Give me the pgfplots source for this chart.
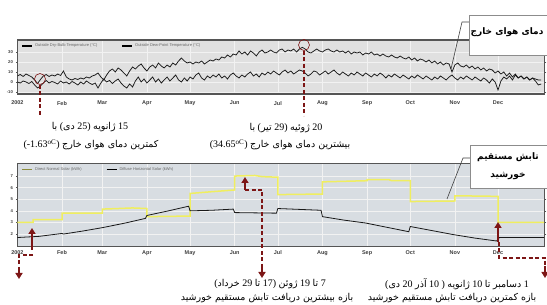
\documentclass[border=0pt]{standalone}
\usepackage{pgfplots}
\pgfplotsset{compat=1.18}
\usepackage{fontspec}
\setmainfont{Liberation Serif}
\newfontfamily\ax{Liberation Sans}
\newfontfamily\fa[Script=Arabic]{DejaVu Sans}
\TeXXeTstate=1
\usetikzlibrary{arrows.meta}
\definecolor{dred}{RGB}{125,22,22}
\definecolor{bgt}{RGB}{224,224,224}
\definecolor{bgb}{RGB}{216,221,226}
\definecolor{frm}{RGB}{85,85,85}
\definecolor{yel}{RGB}{240,238,95}
\definecolor{oli}{RGB}{140,140,60}
\definecolor{grd}{RGB}{242,242,242}
\pgfplotsset{
  panel/.style={
    scale only axis, width=527.4pt, xmin=0, xmax=366.5,
    axis line style={frm, line width=1.2pt},
    xtick={0,31,59,90,120,151,181,212,243,273,304,334},
    xticklabels={2002,Feb,Mar,Apr,May,Jun,Jul,Aug,Sep,Oct,Nov,Dec},
    xtick style={draw=none},
    xticklabel style={font=\ax\bfseries\fontsize{5.5}{6}\selectfont, text=black!75},
    yticklabel style={font=\ax\bfseries\fontsize{4.2}{5}\selectfont, text=black!75, xshift=0.5pt},
    ytick style={frm, line width=0.4pt},
    tick align=outside, major tick length=1.5pt,
    /pgf/number format/assume math mode=true,
    grid=major, grid style={grd, line width=0.5pt},
    legend style={at={(0.006,0.985)}, anchor=north west, draw=none, fill=none,
      font=\ax\fontsize{4}{4.5}\selectfont, text=black!60, legend columns=2,
      /tikz/every even column/.append style={column sep=22pt}, inner sep=0.5pt},
    legend image code/.code={\draw[#1, line width=1.8pt] (0pt,0pt) -- (10pt,0pt);},
    clip=true,
  }
}
\newcommand\p[1]{{\fa\fontsize{9.5}{12}\selectfont #1}}
\begin{document}
\begin{tikzpicture}
\useasboundingbox (0pt,0pt) rectangle (547pt,305pt);
\fill[white] (0pt,0pt) rectangle (547pt,305pt);
% ---------------- top panel: outside temperatures ----------------
\begin{axis}[panel, at={(17.4pt,210.5pt)}, anchor=south west, height=54.5pt,
  ymin=-12.5, ymax=42, ytick={-10,0,10,20,30},
  axis background/.style={fill=bgt},
  xticklabel style={yshift=-1.5pt}]
\addlegendimage{black, line width=1.8pt}
\addlegendentry{Outside Dry-Bulb Temperature (°C)}
\addlegendimage{black, line width=1.8pt}
\addlegendentry{Outside Dew-Point Temperature (°C)}
\addplot[black!90, line width=0.75pt, forget plot] coordinates {
(0,6)(2,7.5)(4,5.5)(6,8)(8,6.5)(10,5)(12,2)(14,-1.6)(16,2.5)(18,6)(20,7.5)(22,5.5)(24,7)(26,6)(28,8)(30,6.5)
(32,11)(34,5)(36,3)(38,2)(40,3.5)(42,2.5)(44,4)(46,3)(48,5)(50,4)(52,6)(54,7)(56,9)(58,5)(60,2)(62,7)
(64,11)(66,13)(68,10)(70,14)(72,12)(74,9)(76,6)(78,11)(80,15)(82,13)(84,16)(86,18)(88,14)(90,11)(92,15)
(94,17)(96,14)(98,19)(100,16)(102,14)(104,17)(106,15)(108,19)(110,17)(112,21)(114,24)(116,21)(118,19)
(120,20)(122,18)(124,20)(126,19)(128,21)(130,18)(132,20)(134,22)(136,21)(138,23)(140,22)(142,25)(144,24)
(146,27)(148,25)(150,28)(152,27)(154,31)(156,28)(158,30)(160,27)(162,31)(164,29)(166,26)(168,30)(170,32)
(172,29)(174,30)(176,32)(178,30)(180,29)(182,32)(184,33)(186,30)(188,32)(190,31)(192,33)(194,30)(196,33)
(198,34.65)(200,33)(202,30)(204,29)(206,31)(208,33)(210,31)(212,30)(214,32)(216,33)(218,31)(220,30)(222,32)
(224,30)(226,31)(228,29)(230,31)(232,28)(234,30)(236,29)(238,30)(240,27)(242,29)(244,28)(246,30)(248,27)
(250,28)(252,26)(254,28)(256,26)(258,25)(260,27)(262,25)(264,24)(266,26)(268,24)(270,23)(272,25)(274,22)
(276,24)(278,21)(280,23)(282,22)(284,20)(286,22)(288,19)(290,21)(292,18)(294,20)(296,17)(298,19)(300,18)
(302,10)(304,17)(306,19)(308,16)(310,15)(312,17)(314,14)(316,16)(318,13)(320,15)(322,12)(324,14)(326,11)
(328,13)(330,12)(332,9)(334,11)(336,8)(338,10)(340,6)(342,9)(344,5)(346,8)(348,4)(350,6)(352,3)(354,5)
(356,2)(358,4)(360,1)(362,-3)(364,-2)};
\addplot[black!90, line width=0.75pt, forget plot] coordinates {
(0,0)(2,-1)(4,1)(6,0)(8,-1.5)(10,0.5)(12,-3)(14,-6)(16,-4)(18,-1)(20,1.5)(22,-1)(24,0.5)(26,-0.5)(28,-2)
(30,1)(32,-1)(34,0)(36,-2)(38,0.5)(40,-1)(42,-3)(44,0)(46,-2)(48,1)(50,-1)(52,-2.5)(54,-1)(56,-6)(58,-1)
(60,3)(62,0)(64,1.5)(66,-1.5)(68,1)(70,3)(72,-1)(74,-4)(76,-6)(78,-2)(80,-5)(82,1)(84,5)(86,0)(88,3)(90,-1)
(92,2)(94,5)(96,0)(98,3)(100,-1)(102,2)(104,5)(106,1)(108,4)(110,7)(112,2)(114,0)(116,4)(118,1)(120,5)
(122,3)(124,7)(126,9)(128,4)(130,2)(132,6)(134,4)(136,7)(138,5)(140,8)(142,4)(144,6)(146,3)(148,7)(150,9)
(152,6)(154,4)(156,7)(158,5)(160,8)(162,10)(164,6)(166,8)(168,5)(170,9)(172,7)(174,10)(176,8)(178,11)
(180,9)(182,7)(184,10)(186,12)(188,9)(190,11)(192,8)(194,10)(196,12)(198,11)(200,9)(202,6)(204,8)(206,11)
(208,10)(210,7)(212,9)(214,11)(216,8)(218,10)(220,12)(222,9)(224,7)(226,10)(228,8)(230,6)(232,9)(234,7)
(236,10)(238,8)(240,6)(242,9)(244,7)(246,5)(248,8)(250,6)(252,9)(254,7)(256,4)(258,7)(260,5)(262,8)(264,6)
(266,4)(268,7)(270,5)(272,3)(274,6)(276,4)(278,7)(280,5)(282,3)(284,6)(286,4)(288,2)(290,5)(292,3)(294,6)
(296,4)(298,2)(300,5)(302,7)(304,4)(306,2)(308,5)(310,3)(312,6)(314,4)(316,2)(318,5)(320,3)(322,1)(324,4)
(326,2)(328,-1)(330,3)(332,0)(334,-8)(336,1)(338,5)(340,3)(342,6)(344,2)(346,7)(348,4)(350,6)(352,3)
(354,5)(356,2)(358,4)(360,3)(362,2)(364,2)};
\draw[frm, line width=3pt] (rel axis cs:0,0) -- (rel axis cs:1,0);
\end{axis}
% ---------------- bottom panel: solar ----------------
\begin{axis}[panel, at={(17.4pt,58.2pt)}, anchor=south west, height=83.5pt,
  ymin=0.9, ymax=8.1, ytick={2,3,4,5,6,7},
  axis background/.style={fill=bgb},
  xticklabel style={yshift=1pt}]
\addlegendimage{oli, line width=1.8pt}
\addlegendentry{Direct Normal Solar (kWh)}
\addlegendimage{black, line width=1.8pt}
\addlegendentry{Diffuse Horizontal Solar (kWh)}
\addplot[yel, line width=1.5pt, forget plot] coordinates {
(0,3.0)(11,3.0)(11,3.25)(31,3.25)(31,3.8)(59,3.8)(59,4.15)(70,4.2)(80,4.25)(90,4.2)(90,3.5)(120,3.55)
(120,5.5)(135,5.65)(151,5.8)(151,7.0)(165,7.05)(170,6.95)(181,6.9)(181,5.4)(212,5.45)(212,6.5)(228,6.55)
(243,6.6)(243,6.7)(258,6.7)(260,6.6)(273,6.6)(273,4.8)(304,4.85)(304,5.3)(334,5.25)(334,3.0)(366,3.0)};
\addplot[black!90, line width=0.8pt, forget plot] coordinates {
(0,1.7)(15,1.8)(31,2.05)(32,2.0)(45,2.25)(59,2.55)(75,2.95)(89,3.35)(90,3.6)(105,4.0)(119,4.4)(120,4.0)
(135,4.05)(150,4.15)(151,3.85)(180,3.8)(181,4.2)(211,4.05)(212,3.5)(227,3.2)(242,2.95)(258,2.55)(272,2.2)
(273,2.65)(288,2.3)(303,1.95)(318,1.65)(333,1.4)(335,1.7)(366,1.7)};
\end{axis}
% ---------------- annotations ----------------
\begin{scope}[x=1pt,y=1pt]
\tikzset{dsh/.style={dred, line width=2.2pt, dash pattern=on 4pt off 2.5pt},
         arr/.style={dred, line width=2.2pt, -{Triangle[length=6pt,width=7pt]}}}
% top panel markers
\draw[dred, line width=0.6pt] (40,305-79) circle (5.5);
\draw[dsh] (40,305-85) -- (40,305-116);
\draw[dred, line width=0.6pt] (304,305-45) circle (5.5);
\draw[dsh] (304,305-51) -- (304,305-116);
% bottom panel: January
\draw[arr] (32,305-250) -- (32,305-228);
\draw[dsh] (33,305-255) -- (19,305-255) -- (19,305-270);
\draw[arr] (19,305-268) -- (19,305-279);
% bottom panel: June
\draw[arr] (245,305-190) -- (245,305-177);
\draw[dsh] (245,305-190) -- (262,305-190) -- (262,305-268);
\draw[arr] (262,305-266) -- (262,305-278);
% bottom panel: December
\draw[arr] (498,305-242) -- (498,305-222);
\draw[dsh] (499,305-242) -- (499,305-258) -- (545,305-258) -- (545,305-268);
\draw[arr] (545,305-266) -- (545,305-278);
% callout boxes
\draw[black!75, line width=0.6pt] (469,305-22) -- (462,305-22) -- (451,305-69);
\draw[black!45, fill=white, line width=0.6pt] (469,305-15) rectangle (549,305-55);
\node[font=\fa\bfseries\fontsize{9}{10}\selectfont] at (507,305-32) {\beginR دمای هوای خارج\endR};
\draw[black!75, line width=0.6pt] (470,305-158) -- (463,305-158) -- (447,305-199);
\draw[black!45, fill=white, line width=0.6pt] (470,305-145) rectangle (549,305-188);
\node[font=\fa\bfseries\fontsize{9}{10}\selectfont] at (508,305-157) {\beginR تابش مستقیم\endR};
\node[font=\fa\bfseries\fontsize{9}{10}\selectfont] at (508,305-176) {\beginR خورشید\endR};
% annotation texts (logical order, right to left)
\tikzset{fa/.style={font=\fontsize{10}{12}\selectfont, inner sep=0pt}}
\node[fa] at (90,305-127) {\beginR\beginL15\endL{} \p{ژانویه} )\beginL25\endL{} \p{دی}( \p{با}\endR};
\node[fa] at (91,305-145) {\beginR\p{کمترین دمای هوای خارج} \beginL(-1.63\textsuperscript{oC})\endL\endR};
\node[fa] at (286,305-128) {\beginR\beginL20\endL{} \p{ژوئیه} )\beginL29\endL{} \p{تیر}( \p{با}\endR};
\node[fa] at (280,305-145) {\beginR\p{بیشترین دمای هوای خارج} \beginL(34.65\textsuperscript{oC})\endL\endR};
\node[fa] at (270,305-284) {\beginR\beginL7\endL{} \p{تا} \beginL19\endL{} \p{ژوئن} )\beginL17\endL{} \p{تا} \beginL29\endL{} \p{خرداد}(\endR};
\node[fa] at (267,305-298) {\beginR\p{بازه بیشترین دریافت تابش مستقیم خورشید}\endR};
\node[fa] at (457,305-284) {\beginR\beginL1\endL{} \p{دسامبر} \p{تا} \beginL10\endL{} \p{ژانویه} ) \beginL10\endL{} \p{آذر} \beginL20\endL{} \p{دی}(\endR};
\node[fa] at (452,305-298) {\beginR\p{بازه کمترین دریافت تابش مستقیم خورشید}\endR};
\end{scope}
\end{tikzpicture}
\end{document}
